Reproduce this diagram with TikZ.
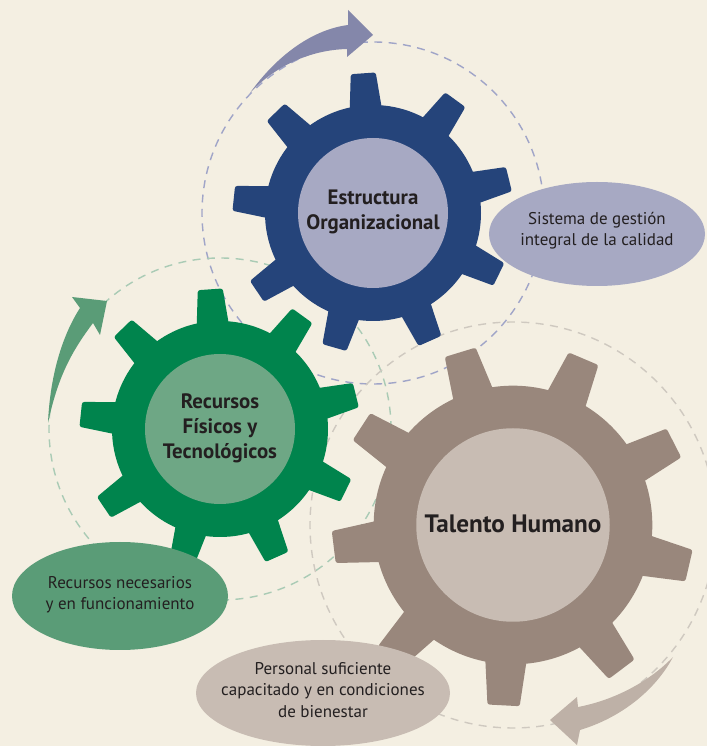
\documentclass[tikz,border=0pt]{standalone}
\usepackage{fontspec}
\setmainfont{PT Sans}
\definecolor{paper}{HTML}{F4EFE2}
\definecolor{navy}{HTML}{25447A}
\definecolor{lilac}{HTML}{A7A9C3}
\definecolor{lilacarrow}{HTML}{8487AA}
\definecolor{lilacdash}{HTML}{A0A5C8}
\definecolor{leaf}{HTML}{00844D}
\definecolor{sage}{HTML}{6EA785}
\definecolor{moss}{HTML}{5A9C77}
\definecolor{mint}{HTML}{AACBB5}
\definecolor{taupe}{HTML}{99877C}
\definecolor{sand}{HTML}{C8BCB3}
\definecolor{sandarrow}{HTML}{BEB1A7}
\definecolor{sanddash}{HTML}{CFC9C0}
\definecolor{ink}{HTML}{231F20}
\tikzset{
  orbit/.style={line width=1.2pt,dash pattern=on 6.8pt off 5.5pt},
  tooth/.style={rounded corners=2pt},
  gearlabel/.style={text=ink,align=center,font={\bfseries\fontsize{17.8}{21.5}\selectfont}},
  note/.style={text=ink,align=center,font={\fontsize{14.5}{18}\selectfont}},
}

\begin{document}
\begin{tikzpicture}[x=0.03cm,y=0.03cm]
\useasboundingbox (0,0) rectangle (707,746);
\clip (0,0) rectangle (707,746);
\fill[paper] (0,0) rectangle (707,746);
% dashed orbits
\draw[orbit,lilacdash] (373,533) circle (171);
\draw[orbit,mint] (220,317) circle (171);
\draw[orbit,sanddash] (513,221) circle (203);
% turning arrows
\fill[lilacarrow] (250,653) .. controls (275,688) and (310,716) .. (348,721) -- (348,736) -- (373,711) -- (347,689) -- (347,697) .. controls (310,696) and (275,680) .. (250,653) -- cycle;
\fill[moss] (48,323) .. controls (50,370) and (62,410) .. (80,438) -- (72,449) -- (107,445) -- (100,411) -- (93,423) .. controls (72,395) and (58,370) .. (48,323) -- cycle;
\fill[sandarrow] (673,89) .. controls (655,55) and (620,28) .. (580,16) -- (577,1) -- (550,26) -- (577,49) -- (578,39) .. controls (615,46) and (650,65) .. (673,89) -- cycle;
% blue gear
\begin{scope}[shift={(373,533)}]
\fill[navy] (0,0) circle (108);
\foreach \a in {14,54,...,334}
  \fill[navy,tooth,rotate=\a] (100,-16.5) -- (140,-12.5) -- (140,12.5) -- (100,16.5) -- cycle;
\fill[lilac] (0,0) circle (75);
\end{scope}
% green gear
\begin{scope}[shift={(220,317)}]
\fill[leaf] (0,0) circle (108);
\foreach \a in {14,54,...,334}
  \fill[leaf,tooth,rotate=\a] (100,-16.5) -- (140,-12.5) -- (140,12.5) -- (100,16.5) -- cycle;
\fill[sage] (0,0) circle (75);
\end{scope}
% brown gear
\begin{scope}[shift={(513,221)},scale=1.29]
\fill[taupe] (0,0) circle (108);
\foreach \a in {27,67,...,347}
  \fill[taupe,tooth,rotate=\a] (100,-16.5) -- (140,-12.5) -- (140,12.5) -- (100,16.5) -- cycle;
\fill[sand] (0,0) circle (75);
\end{scope}
\node[gearlabel] (estructura) at (373,534) {Estructura\\Organizacional};
\node[gearlabel] (recursos) at (220,318) {Recursos\\Físicos y\\Tecnológicos};
\node[gearlabel,font={\bfseries\fontsize{21.5}{26}\selectfont}] (talento) at (513,222) {Talento Humano};
% notes
\fill[lilac] (597,512) ellipse (108 and 52);
\node[note] (sistema) at (597,515) {Sistema de gestión\\integral de la calidad};
\fill[moss] (120,150) ellipse (108 and 54);
\node[note] (necesarios) at (120,151) {Recursos necesarios\\y en funcionamiento};
\fill[sand] (323,53) ellipse (127 and 53);
\node[note] (personal) at (323,56) {Personal suficiente\\capacitado y en condiciones\\de bienestar};
\end{tikzpicture}
\end{document}
